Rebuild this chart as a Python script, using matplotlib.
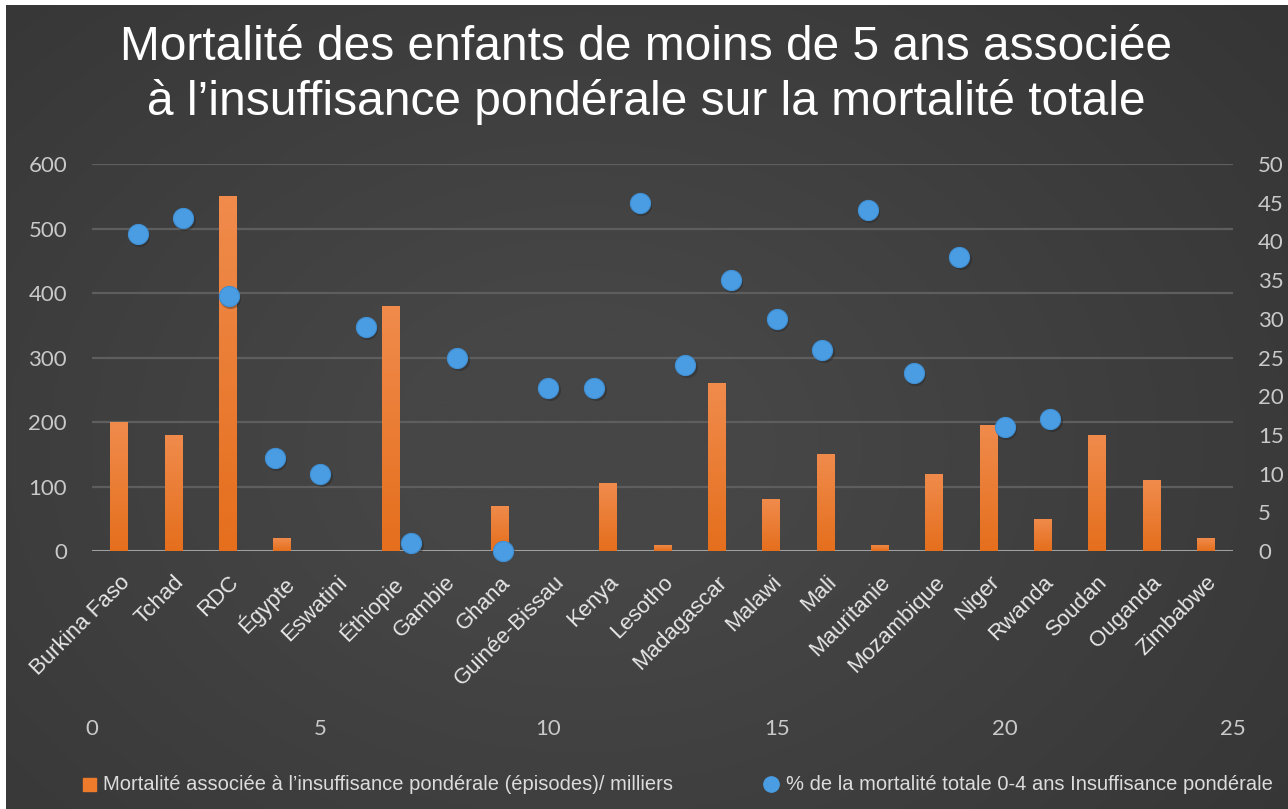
import numpy as np
import matplotlib
matplotlib.use("Agg")
import matplotlib.pyplot as plt
from matplotlib.colors import LinearSegmentedColormap

# --- data -------------------------------------------------------------
pays = ["Burkina Faso", "Tchad", "RDC", "Égypte", "Eswatini", "Éthiopie",
        "Gambie", "Ghana", "Guinée-Bissau", "Kenya", "Lesotho", "Madagascar",
        "Malawi", "Mali", "Mauritanie", "Mozambique", "Niger", "Rwanda",
        "Soudan", "Ouganda", "Zimbabwe"]
mortalite_milliers = [200, 180, 550, 20, 0, 380, 0, 70, 0, 105, 10, 260,
                      80, 150, 10, 120, 195, 50, 180, 110, 20]

pct_x = [1, 2, 3, 4, 5, 6, 7, 8, 9, 10, 11, 12, 13, 14, 15, 16, 17, 18,
         19, 20, 21]
pct_mortalite = [41, 43, 33, 12, 10, 29, 1, 25, 0, 21, 21, 45, 24, 35, 30,
                 26, 44, 23, 38, 16, 17]

left_ticks = [0, 100, 200, 300, 400, 500, 600]
right_ticks = [0, 5, 10, 15, 20, 25, 30, 35, 40, 45, 50]
bottom_ticks = [0, 5, 10, 15, 20, 25]

titre = ("Mortalité des enfants de moins de 5 ans associée\n"
         "à l\u2019insuffisance pondérale sur la mortalité totale")
leg_barres = "Mortalité associée à l\u2019insuffisance pondérale (épisodes)/ milliers"
leg_points = "% de la mortalité totale 0-4 ans Insuffisance pondérale"

# --- style ------------------------------------------------------------
TICK = "#c9c9c9"
GRID = "#5e5e5e"
BASE = "#a8a8a8"
ORANGE_TOP = "#f08b4c"
ORANGE_BOT = "#e56f1d"
BLUE = "#4a9de2"
SANS = ["Liberation Sans", "DejaVu Sans"]
NUM = ["Lato", "DejaVu Sans"]

W, H = 1288, 809
fig = plt.figure(figsize=(W / 100, H / 100), dpi=100, facecolor="white")

# dark slide background with a soft lighter centre
bg = fig.add_axes([6 / W, 0, 1 - 6 / W, 1 - 5 / H])
bg.set_axis_off()
yy, xx = np.mgrid[0:1:300j, 0:1:500j]
r = np.sqrt(((xx - 0.45) / 0.75) ** 2 + ((yy - 0.55) / 0.9) ** 2)
shade = np.clip(1 - r, 0, 1)
bg_cmap = LinearSegmentedColormap.from_list("bg", ["#343434", "#464646"])
bg.imshow(shade, cmap=bg_cmap, aspect="auto", extent=[0, 1, 0, 1],
          vmin=0, vmax=0.8, interpolation="bilinear")
bg.set_xlim(0, 1)
bg.set_ylim(0, 1)

# plot area geometry (pixels)
x0, x1 = 92, 1233
y0, y1 = 551, 164
pos = [x0 / W, 1 - y0 / H, (x1 - x0) / W, (y0 - y1) / H]

# --- bars on category axis -------------------------------------------
ax = fig.add_axes(pos)
ax.set_facecolor("none")
xcat = np.arange(len(pays))
bars = ax.bar(xcat, mortalite_milliers, width=0.33, color=ORANGE_BOT,
              zorder=3, linewidth=0)
grad = LinearSegmentedColormap.from_list("org", [ORANGE_BOT, ORANGE_TOP])
gimg = np.linspace(0, 1, 64).reshape(-1, 1)
for b in bars:
    if b.get_height() <= 0:
        continue
    bx, by = b.get_x(), b.get_y()
    im = ax.imshow(gimg, cmap=grad, origin="lower", aspect="auto",
                   extent=[bx, bx + b.get_width(), by, by + b.get_height()],
                   zorder=3.5)
    im.set_clip_path(b)

ax.set_xlim(-0.5, len(pays) - 0.5)
ax.set_ylim(0, 600)
ax.set_yticks(left_ticks)
ax.set_yticklabels([str(t) for t in left_ticks], family=NUM, fontsize=16,
                   color=TICK)
ax.tick_params(axis="y", length=0, pad=18)
ax.set_xticks(xcat)
ax.set_xticklabels(pays, rotation=45, ha="right", rotation_mode="anchor",
                   family=SANS, fontsize=16, color="#e6e6e6")
ax.tick_params(axis="x", length=0, pad=15)
ax.grid(axis="y", color=GRID, linewidth=1.6, zorder=1)
ax.set_axisbelow(True)
for s in ax.spines.values():
    s.set_visible(False)
ax.axhline(0, color=BASE, linewidth=2, zorder=2)

# --- scatter on value axes -------------------------------------------
ax2 = fig.add_axes(pos)
ax2.set_facecolor("none")
ax2.scatter(pct_x, pct_mortalite, s=230, color="#1e1e1e", alpha=0.35,
            linewidths=0, zorder=4,
            transform=ax2.transData + matplotlib.transforms.ScaledTranslation(
                1.5 / 100, -2 / 100, fig.dpi_scale_trans))
ax2.scatter(pct_x, pct_mortalite, s=210, color=BLUE, edgecolors="#3f8fd4",
            linewidths=0.8, zorder=5, clip_on=False)
ax2.set_xlim(0, 25)
ax2.set_ylim(0, 50)
ax2.yaxis.tick_right()
ax2.set_yticks(right_ticks)
ax2.set_yticklabels([str(t) for t in right_ticks], family=NUM, fontsize=16,
                    color=TICK)
ax2.tick_params(axis="y", length=0, pad=18)
ax2.set_xticks(bottom_ticks)
ax2.set_xticklabels([str(t) for t in bottom_ticks], family=NUM, fontsize=16,
                    color=TICK)
ax2.tick_params(axis="x", length=0, pad=121)
for s in ax2.spines.values():
    s.set_visible(False)

# --- title ------------------------------------------------------------
fig.text(646 / W, 1 - 75 / H, titre, ha="center", va="center",
         family=SANS, fontsize=34.5, color="white", linespacing=1.27)

# --- legend -----------------------------------------------------------
ly = 1 - 784 / H
fig.patches.append(plt.Rectangle((83 / W, ly - 6.5 / H), 13 / W, 13 / H,
                                 transform=fig.transFigure,
                                 color="#ee7a2c", zorder=5))
fig.text(103 / W, ly, leg_barres, ha="left", va="center", family=SANS,
         fontsize=14.5, color="#dcdcdc")
fig.add_artist(matplotlib.lines.Line2D([771 / W], [ly], marker="o",
                                       markersize=11, color=BLUE,
                                       transform=fig.transFigure))
fig.text(786 / W, ly, leg_points, ha="left", va="center", family=SANS,
         fontsize=14.5, color="#dcdcdc")

fig.savefig("out.png", dpi=100, facecolor=fig.get_facecolor())
